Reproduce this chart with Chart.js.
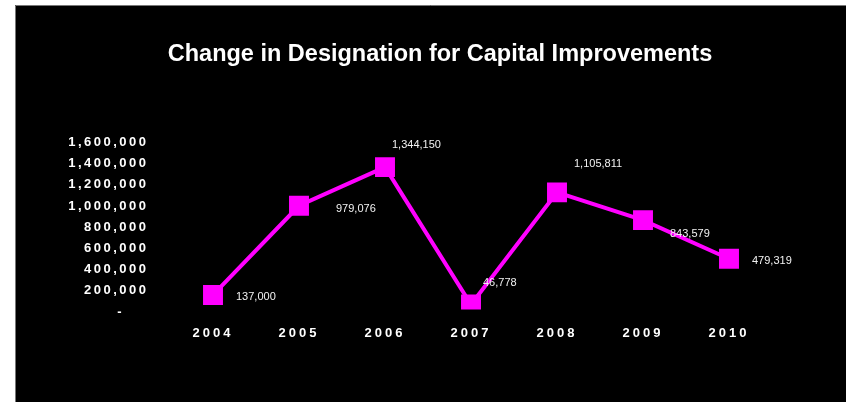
<!DOCTYPE html>
<html>
<head>
<meta charset="utf-8">
<script src="https://cdn.jsdelivr.net/npm/chart.js@4/dist/chart.umd.min.js"></script>
<style>
  html, body { margin: 0; padding: 0; background: #ffffff; }
  #wrap { width: 846px; height: 402px; position: relative; }
</style>
</head>
<body>
<div id="wrap"><canvas id="c" width="846" height="402"></canvas></div>
<script>
// Fiscal years and the designated amounts for capital improvements
const years = ['2004', '2005', '2006', '2007', '2008', '2009', '2010'];
const amounts = [137000, 979076, 1344150, 46778, 1105811, 843579, 479319];

// Value axis range
const yMin = 0;
const yMax = 1600000;
const yStep = 200000;

// Where each value label sits relative to its marker (dx, dy in px)
const labelOffsets = [[23, 2], [37, 3], [7, -22], [12, -22], [17, -28], [27, 14], [23, 2]];

const FONT = '"Liberation Sans", Arial, sans-serif';
const MAGENTA = '#ff00ff';

// Black panel behind the chart
const panel = {
  id: 'panel',
  beforeDraw(chart) {
    const ctx = chart.ctx;
    ctx.save();
    ctx.fillStyle = '#000000';
    ctx.fillRect(15, 5, chart.width - 15, chart.height - 5);
    ctx.strokeStyle = '#777777';
    ctx.lineWidth = 1;
    ctx.beginPath();
    ctx.moveTo(15.5, chart.height);
    ctx.lineTo(15.5, 5.5);
    ctx.lineTo(chart.width, 5.5);
    ctx.stroke();
    ctx.restore();
  }
};

// Axis tick labels are drawn with wider letter spacing and may run past the axis box
const spacing = { x: 3, y: 2.5 };
const labelShiftY = { x: 0, y: 2.5 };
const spacedTicks = {
  id: 'spacedTicks',
  beforeDraw(chart) {
    for (const id of Object.keys(spacing)) {
      const s = chart.scales[id];
      if (s && !s._spacedPatch) {
        const orig = s.drawLabels;
        s._computeLabelArea = () => undefined;
        s.drawLabels = function (area) {
          const ctx = this.ctx;
          ctx.save();
          ctx.letterSpacing = spacing[id] + 'px';
          ctx.translate(0, labelShiftY[id]);
          orig.call(this, area);
          ctx.restore();
        };
        s._spacedPatch = true;
      }
    }
  }
};

// Value labels next to each marker
const valueLabels = {
  id: 'valueLabels',
  afterDatasetsDraw(chart) {
    const ctx = chart.ctx;
    const meta = chart.getDatasetMeta(0);
    ctx.save();
    ctx.font = '11px ' + FONT;
    ctx.fillStyle = '#f2f2f2';
    ctx.textAlign = 'left';
    ctx.textBaseline = 'middle';
    meta.data.forEach((pt, i) => {
      const v = chart.data.datasets[0].data[i];
      const [dx, dy] = labelOffsets[i];
      ctx.fillText(v.toLocaleString('en-US'), pt.x + dx, pt.y + dy);
    });
    ctx.restore();
  }
};

new Chart(document.getElementById('c'), {
  type: 'line',
  data: {
    labels: years,
    datasets: [{
      data: amounts,
      borderColor: MAGENTA,
      backgroundColor: MAGENTA,
      borderWidth: 4,
      pointStyle: 'rect',
      pointRadius: 14.1,
      pointBorderWidth: 0,
      pointBackgroundColor: MAGENTA,
      tension: 0,
      fill: false
    }]
  },
  options: {
    responsive: false,
    animation: false,
    devicePixelRatio: 1,
    layout: { padding: { left: 108, right: 74, top: 0, bottom: 0 } },
    plugins: {
      legend: { display: false },
      tooltip: { enabled: false },
      title: {
        display: true,
        text: 'Change in Designation for Capital Improvements',
        color: '#ffffff',
        font: { family: FONT, size: 23.5, weight: 'bold', lineHeight: 1.2 },
        padding: { top: 40, bottom: 71.8 }
      }
    },
    scales: {
      x: {
        type: 'category',
        offset: true,
        grid: { display: false, drawTicks: false },
        border: { display: false },
        ticks: {
          color: '#ffffff',
          font: { family: FONT, size: 13, weight: 'bold' },
          padding: 16,
          maxRotation: 0
        },
        afterFit(scale) { scale.height = 92.5; }
      },
      y: {
        min: yMin,
        max: yMax,
        grid: { display: false, drawTicks: false },
        border: { display: false },
        ticks: {
          stepSize: yStep,
          color: '#ffffff',
          font: { family: FONT, size: 13, weight: 'bold' },
          padding: 21.5,
          callback: (v) => v === 0 ? '-    ' : Number(v).toLocaleString('en-US')
        },
        afterFit(scale) { scale.width = 62; }
      }
    }
  },
  plugins: [panel, spacedTicks, valueLabels]
});
</script>
</body>
</html>
